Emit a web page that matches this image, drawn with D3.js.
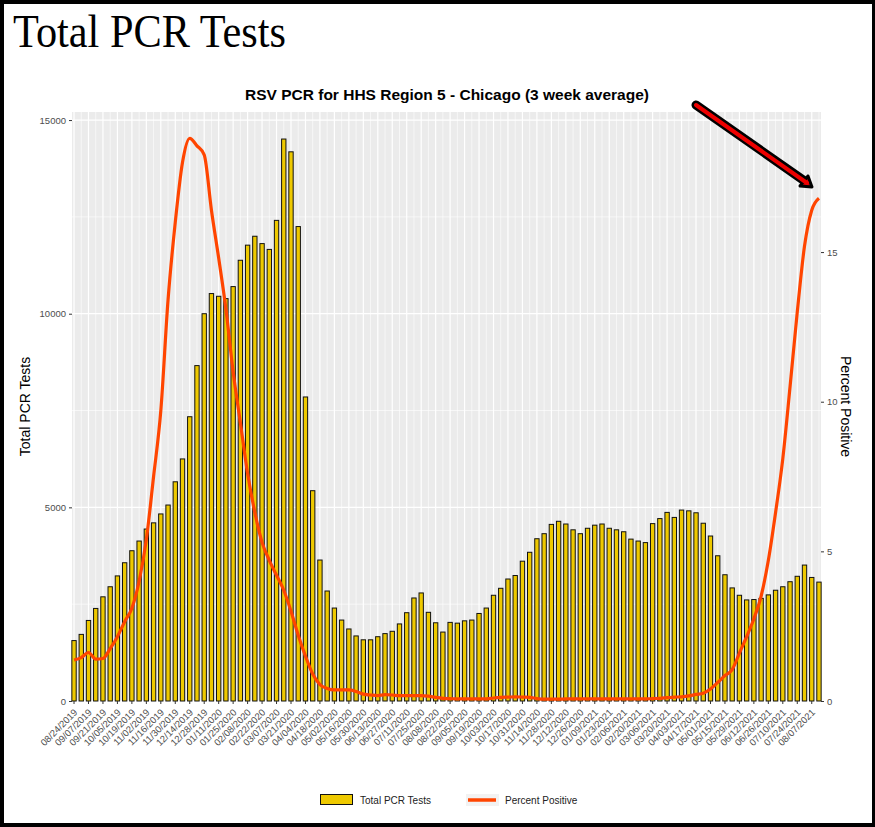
<!DOCTYPE html>
<html>
<head>
<meta charset="utf-8">
<script src="https://cdn.jsdelivr.net/npm/d3@7/dist/d3.min.js"></script>
<style>
  body { margin: 0; background: #fff; }
  svg { display: block; }
</style>
</head>
<body>
<svg id="chart" width="875" height="827"></svg>
<script>
// weekly categories: first week and number of weeks
var firstWeek = "2019-08-24";
var weekCount = 104;

// total PCR tests (3 week average), one value per week
var totalTests = [
  1560, 1720, 2080, 2390, 2690, 2950, 3230, 3570, 3880, 4130,
  4440, 4600, 4830, 5060, 5660, 6250, 7340, 8660, 10000, 10520,
  10450, 10390, 10700, 11380, 11770, 12000, 11810, 11660, 12410, 14510,
  14180, 12250, 7850, 5430, 3640, 2840, 2400, 2090, 1860, 1680,
  1580, 1580, 1660, 1740, 1800, 1990, 2280, 2660, 2790, 2290,
  2020, 1780, 2030, 2010, 2070, 2090, 2260, 2400, 2730, 2910,
  3150, 3240, 3610, 3840, 4190, 4320, 4560, 4640, 4570, 4420,
  4320, 4460, 4540, 4570, 4460, 4420, 4370, 4180, 4130, 4090,
  4580, 4710, 4870, 4740, 4930, 4910, 4860, 4590, 4260, 3750,
  3260, 2920, 2730, 2610, 2620, 2650, 2740, 2860, 2950, 3080,
  3220, 3510, 3190, 3070
];

// percent positive, one value per week
var percentPositive = [
  1.37, 1.45, 1.62, 1.40, 1.42, 1.75, 2.15, 2.65, 3.10, 4.00,
  5.40, 7.50, 9.70, 13.4, 16.0, 18.0, 18.8, 18.55, 18.25, 16.4,
  14.8, 13.1, 11.0, 9.30, 7.60, 6.30, 5.30, 4.70, 4.20, 3.70,
  3.00, 2.20, 1.50, 0.90, 0.55, 0.42, 0.37, 0.37, 0.37, 0.32,
  0.23, 0.20, 0.18, 0.21, 0.20, 0.18, 0.18, 0.18, 0.18, 0.16,
  0.12, 0.09, 0.08, 0.07, 0.07, 0.07, 0.07, 0.07, 0.10, 0.12,
  0.13, 0.14, 0.13, 0.12, 0.08, 0.06, 0.06, 0.06, 0.07, 0.07,
  0.07, 0.07, 0.07, 0.07, 0.07, 0.07, 0.07, 0.07, 0.07, 0.07,
  0.08, 0.09, 0.11, 0.13, 0.14, 0.17, 0.22, 0.26, 0.40, 0.62,
  0.85, 1.05, 1.60, 2.15, 2.75, 3.50, 4.70, 6.30, 8.10, 10.5,
  13.0, 15.2, 16.4, 16.8
];

var leftTicks = [0, 5000, 10000, 15000];
var leftMinor = [2500, 7500, 12500];
var rightTicks = [0, 5, 10, 15];

var barColor = "#EEC900";
var lineColor = "#FF4500";

var svg = d3.select("#chart");

/*
 panel box of the plot (pixels)
*/
var panel = {left: 72, right: 821, top: 112, bottom: 701};

var parse = d3.utcParse("%Y-%m-%d");
var fmt = d3.utcFormat("%m/%d/%Y");
var start = parse(firstWeek);
var weeks = d3.range(weekCount).map(function(i){ return d3.utcDay.offset(start, 7 * i); });

var rows = weeks.map(function(d, i){
  return {date: d, label: fmt(d), tests: totalTests[i], pct: percentPositive[i], i: i};
});

var x = d3.scalePoint()
  .domain(d3.range(weekCount))
  .range([panel.left, panel.right])
  .padding(0.28);

var y = d3.scaleLinear()
  .domain([0, 15208])
  .range([panel.bottom, panel.top]);

var y2 = d3.scaleLinear()
  .domain([0, 19.68])
  .range([panel.bottom, panel.top]);

var barW = x.step() * 0.6;

// outer black frame of the picture
svg.append("rect").attr("x", 0).attr("y", 0).attr("width", 4).attr("height", 827).style("fill", "#000");
svg.append("rect").attr("x", 0).attr("y", 0).attr("width", 875).attr("height", 4).style("fill", "#000");
svg.append("rect").attr("x", 872).attr("y", 0).attr("width", 3).attr("height", 827).style("fill", "#000");
svg.append("rect").attr("x", 0).attr("y", 823).attr("width", 875).attr("height", 4).style("fill", "#000");

// big heading
svg.append("text")
  .attr("x", 13)
  .attr("y", 47)
  .attr("textLength", 273)
  .attr("lengthAdjust", "spacingAndGlyphs")
  .style("font-family", "Liberation Serif, serif")
  .style("font-size", "46px")
  .style("fill", "#000")
  .text("Total PCR Tests");

// plot title
svg.append("text")
  .attr("x", 447)
  .attr("y", 100)
  .attr("text-anchor", "middle")
  .style("font-family", "Liberation Sans, Arial, sans-serif")
  .style("font-weight", "bold")
  .style("font-size", "15.5px")
  .text("RSV PCR for HHS Region 5 - Chicago (3 week average)");

// panel background
svg.append("rect")
  .attr("x", panel.left)
  .attr("y", panel.top)
  .attr("width", panel.right - panel.left)
  .attr("height", panel.bottom - panel.top)
  .style("fill", "#EBEBEB");

var grid = svg.append("g");

grid.selectAll(".hminor").data(leftMinor).enter().append("line")
  .attr("x1", panel.left).attr("x2", panel.right)
  .attr("y1", function(d){ return y(d); }).attr("y2", function(d){ return y(d); })
  .style("stroke", "#fff").style("stroke-width", 0.6);

grid.selectAll(".hmajor").data(leftTicks).enter().append("line")
  .attr("x1", panel.left).attr("x2", panel.right)
  .attr("y1", function(d){ return y(d); }).attr("y2", function(d){ return y(d); })
  .style("stroke", "#fff").style("stroke-width", 1.2);

// vertical grid: major at labelled weeks, minor at the others
grid.selectAll(".v").data(rows).enter().append("line")
  .attr("x1", function(d){ return x(d.i); }).attr("x2", function(d){ return x(d.i); })
  .attr("y1", panel.top).attr("y2", panel.bottom)
  .style("stroke", "#fff")
  .style("stroke-width", function(d){ return d.i % 2 == 0 ? 1.2 : 0.6; });

// bars
svg.append("g").selectAll("rect").data(rows).enter().append("rect")
  .attr("x", function(d){ return x(d.i) - barW / 2; })
  .attr("y", function(d){ return y(d.tests); })
  .attr("width", barW)
  .attr("height", function(d){ return y(0) - y(d.tests); })
  .style("fill", barColor)
  .style("stroke", "#111")
  .style("stroke-width", 1);

// percent positive line
var line = d3.line()
  .x(function(d){ return x(d.i); })
  .y(function(d){ return y2(d.pct); })
  .curve(d3.curveMonotoneX);

svg.append("path")
  .datum(rows)
  .attr("d", line)
  .style("fill", "none")
  .style("stroke", lineColor)
  .style("stroke-width", 3.2)
  .style("stroke-linejoin", "round");

// left axis
var axisFont = "Liberation Sans, Arial, sans-serif";
var gLeft = svg.append("g")
  .attr("transform", "translate(" + panel.left + ",0)")
  .call(d3.axisLeft(y).tickValues(leftTicks).tickFormat(d3.format("d")).tickSize(3).tickPadding(3));
gLeft.select(".domain").remove();
gLeft.selectAll("line").style("stroke", "#333");
gLeft.selectAll("text").style("font-family", axisFont).style("font-size", "9.5px").style("fill", "#4d4d4d");

// right axis
var gRight = svg.append("g")
  .attr("transform", "translate(" + panel.right + ",0)")
  .call(d3.axisRight(y2).tickValues(rightTicks).tickFormat(d3.format("d")).tickSize(3).tickPadding(3));
gRight.select(".domain").remove();
gRight.selectAll("line").style("stroke", "#333");
gRight.selectAll("text").style("font-family", axisFont).style("font-size", "9.5px").style("fill", "#4d4d4d");

// bottom axis: tick every second week
var labelled = rows.filter(function(d){ return d.i % 2 == 0; });
var gBottom = svg.append("g");
gBottom.selectAll("line").data(labelled).enter().append("line")
  .attr("x1", function(d){ return x(d.i); }).attr("x2", function(d){ return x(d.i); })
  .attr("y1", panel.bottom).attr("y2", panel.bottom + 3)
  .style("stroke", "#333");
gBottom.selectAll("text").data(labelled).enter().append("text")
  .attr("transform", function(d){ return "translate(" + (x(d.i) + 4) + "," + (panel.bottom + 12) + ") rotate(-45)"; })
  .attr("text-anchor", "end")
  .style("font-family", axisFont)
  .style("font-size", "9.5px")
  .style("fill", "#4d4d4d")
  .text(function(d){ return d.label; });

// axis titles
svg.append("text")
  .attr("transform", "translate(30," + ((panel.top + panel.bottom) / 2) + ") rotate(-90)")
  .attr("text-anchor", "middle")
  .style("font-family", axisFont)
  .style("font-size", "14px")
  .text("Total PCR Tests");

svg.append("text")
  .attr("transform", "translate(841," + ((panel.top + panel.bottom) / 2) + ") rotate(90)")
  .attr("text-anchor", "middle")
  .style("font-family", axisFont)
  .style("font-size", "14px")
  .text("Percent Positive");

// legend
var lg = svg.append("g");
lg.append("rect")
  .attr("x", 320.5).attr("y", 794.5).attr("width", 32).attr("height", 10)
  .style("fill", barColor).style("stroke", "#111").style("stroke-width", 1);
lg.append("text")
  .attr("x", 360).attr("y", 803.5)
  .style("font-family", axisFont).style("font-size", "10px").style("fill", "#222")
  .text("Total PCR Tests");
lg.append("rect")
  .attr("x", 466).attr("y", 794).attr("width", 33).attr("height", 12)
  .style("fill", "#F2F2F2");
lg.append("line")
  .attr("x1", 468).attr("x2", 496).attr("y1", 800).attr("y2", 800)
  .style("stroke", lineColor).style("stroke-width", 3.5);
lg.append("text")
  .attr("x", 505).attr("y", 803.5)
  .style("font-family", axisFont).style("font-size", "10px").style("fill", "#222")
  .text("Percent Positive");

/*
 red call-out arrow pointing at the latest value
*/
var arrow = {x1: 696, y1: 105, x2: 806, y2: 182};
svg.append("path")
  .attr("d", "M" + arrow.x1 + "," + arrow.y1 + "L" + arrow.x2 + "," + arrow.y2)
  .style("stroke", "#000").style("stroke-width", 9).style("stroke-linecap", "round");
svg.append("path")
  .attr("d", "M800,186 L812,187 L808,176 Z")
  .style("fill", "#c00").style("stroke", "#000").style("stroke-width", 3).style("stroke-linejoin", "round");
svg.append("path")
  .attr("d", "M" + arrow.x1 + "," + arrow.y1 + "L" + (arrow.x2 + 1) + "," + (arrow.y2 + 1))
  .style("stroke", "#e00").style("stroke-width", 4).style("stroke-linecap", "round");
</script>
</body>
</html>
